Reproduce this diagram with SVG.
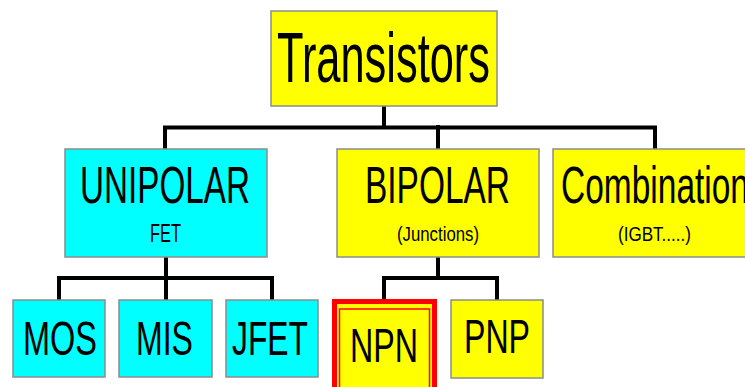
<svg xmlns="http://www.w3.org/2000/svg" width="745" height="387" viewBox="0 0 745 387">
<style>
.box{stroke:#8c8c8c;stroke-width:1.5}
.y{fill:#ffff00}
.c{fill:#00ffff}
text{font-family:"Liberation Sans",Arial,sans-serif;fill:#000;lengthAdjust:spacingAndGlyphs}
.ln{stroke:#000;fill:none;stroke-width:4;stroke-linejoin:miter;stroke-linecap:square}
</style>
<rect width="745" height="387" fill="#fff"/>
<g id="connectors">
<path class="ln" d="M384,106 V127" stroke-width="3"/>
<path class="ln" d="M165,148 V127.5 H655 V148" stroke-width="5"/>
<path class="ln" d="M438,127 V148"/>
<path class="ln" d="M166,257 V278"/>
<path class="ln" d="M59,300 V278 H272 V300"/>
<path class="ln" d="M166,278 V300"/>
<path class="ln" d="M438,257 V278"/>
<path class="ln" d="M384,300 V278 H497 V300"/>
</g>
<g id="transistors">
<rect class="box y" x="271" y="11" width="226" height="95"/>
<text x="277" y="82" font-size="70" textLength="213" lengthAdjust="spacingAndGlyphs">Transistors</text>
</g>
<g id="unipolar">
<rect class="box c" x="65" y="149" width="202" height="108"/>
<text x="80" y="203" font-size="52" textLength="170" lengthAdjust="spacingAndGlyphs">UNIPOLAR</text>
<text x="150" y="242" font-size="25" textLength="31" lengthAdjust="spacingAndGlyphs">FET</text>
</g>
<g id="bipolar">
<rect class="box y" x="337" y="149" width="202" height="108"/>
<text x="365" y="203" font-size="52" textLength="145" lengthAdjust="spacingAndGlyphs">BIPOLAR</text>
<text x="397" y="241" font-size="21" textLength="82" lengthAdjust="spacingAndGlyphs">(Junctions)</text>
</g>
<g id="combination">
<rect class="box y" x="553" y="149" width="205" height="108"/>
<text x="561" y="203" font-size="52" textLength="188" lengthAdjust="spacingAndGlyphs">Combination</text>
<text x="618" y="241" font-size="21" textLength="73" lengthAdjust="spacingAndGlyphs">(IGBT.....)</text>
</g>
<g id="mos">
<rect class="box c" x="13" y="300" width="92" height="77"/>
<text x="23" y="355" font-size="49" textLength="74" lengthAdjust="spacingAndGlyphs">MOS</text>
</g>
<g id="mis">
<rect class="box c" x="119" y="300" width="93" height="77"/>
<text x="136" y="355" font-size="49" textLength="57" lengthAdjust="spacingAndGlyphs">MIS</text>
</g>
<g id="jfet">
<rect class="box c" x="226" y="300" width="92" height="77"/>
<text x="232" y="355" font-size="49" textLength="76" lengthAdjust="spacingAndGlyphs">JFET</text>
</g>
<g id="npn">
<rect x="332" y="299" width="105" height="100" fill="#ff0000"/>
<rect x="337" y="304" width="95" height="95" fill="#ffff00"/>
<rect x="339.5" y="309" width="90" height="90" fill="none" stroke="#ff0000" stroke-width="1.5"/>
<text x="350" y="362" font-size="49" textLength="68" lengthAdjust="spacingAndGlyphs">NPN</text>
</g>
<g id="pnp">
<rect class="box y" x="451" y="300" width="92" height="78"/>
<text x="464" y="353" font-size="49" textLength="66" lengthAdjust="spacingAndGlyphs">PNP</text>
</g>
</svg>
